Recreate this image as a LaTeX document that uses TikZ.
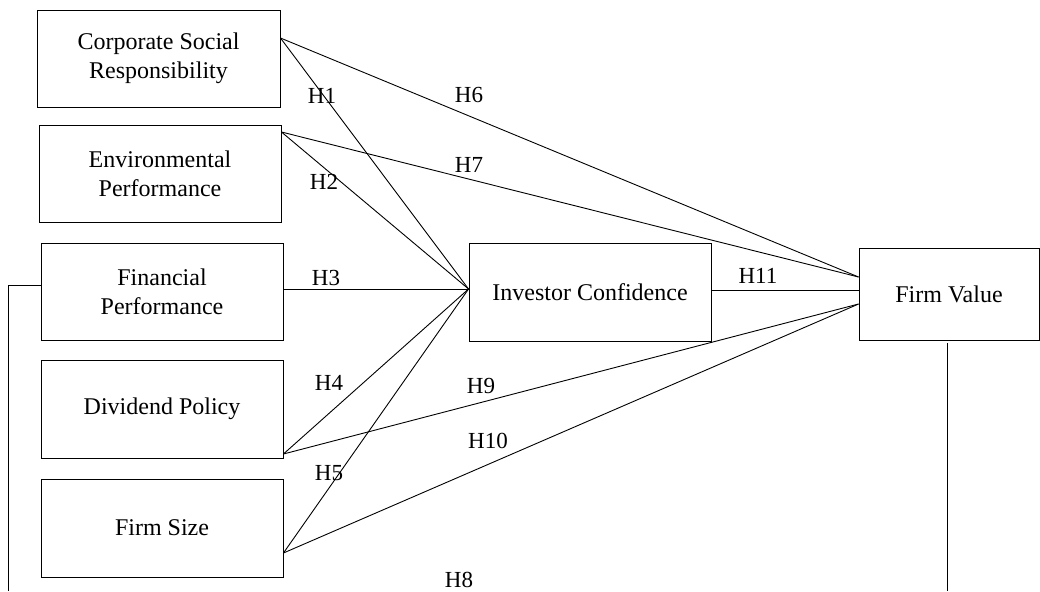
\documentclass[tikz,border=0pt]{standalone}
\usepackage{fontspec}
\setmainfont{Liberation Serif}
\begin{document}
\begin{tikzpicture}[x=1pt,y=-1pt,
  box/.style={draw, line width=0.9pt, inner sep=0pt, align=center, font=\fontsize{24}{29}\selectfont},
  hl/.style={font=\fontsize{23}{27}\selectfont, inner sep=0pt},
  conn/.style={line width=0.9pt}]
\useasboundingbox (0,0) rectangle (1040,591);
\node[box, minimum width=243pt, minimum height=97pt] (csr) at (158.5,58.5) {Corporate Social\\Responsibility};
\node[box, minimum width=242pt, minimum height=97pt] (env) at (160,173.5) {Environmental\\Performance};
\node[box, minimum width=242pt, minimum height=97pt] (fin) at (162,291.5) {Financial\\Performance};
\node[box, minimum width=242pt, minimum height=98pt] (div) at (162,409) {Dividend Policy};
\node[box, minimum width=242pt, minimum height=98pt] (size) at (162,528) {Firm Size};
\node[box, minimum width=242pt, minimum height=98pt] (ic) at (590,292) {Investor Confidence};
\node[box, minimum width=180pt, minimum height=92pt] (fv) at (949,294) {Firm Value};

\coordinate (icin) at ([yshift=3pt]ic.west);
\coordinate (fvtop) at ([yshift=17pt]fv.west);
\coordinate (fvbot) at ([yshift=-10pt]fv.west);
\coordinate (csra) at ([yshift=20.5pt]csr.east);
\coordinate (enva) at ([yshift=41.5pt]env.east);
\coordinate (diva) at ([yshift=-45pt]div.east);
\coordinate (sizea) at ([yshift=-25pt]size.east);

\draw[conn] (csra) -- (icin);
\draw[conn] (csra) -- (fvtop);
\draw[conn] (enva) -- (icin);
\draw[conn] (enva) -- (fvtop);
\draw[conn] ([yshift=2.5pt]fin.east) -- (icin);
\draw[conn] (diva) -- (icin);
\draw[conn] (diva) -- (fvbot);
\draw[conn] (sizea) -- (icin);
\draw[conn] (sizea) -- (fvbot);
\draw[conn] ([yshift=2pt]ic.east) -- ([yshift=4pt]fv.west);

\coordinate (lb) at (8,591);
\coordinate (rbtop) at (947,343);
\coordinate (rb) at (947,591);
\draw[conn] ([yshift=6.5pt]fin.west) -| (lb);
\draw[conn] (rbtop) -- (rb);

\node[hl] (h1) at (322,96) {H1};
\node[hl] (h6) at (469,95) {H6};
\node[hl] (h2) at (324,182) {H2};
\node[hl] (h7) at (469,165) {H7};
\node[hl] (h3) at (326,278) {H3};
\node[hl] (h11) at (758,276) {H11};
\node[hl] (h4) at (329,383) {H4};
\node[hl] (h9) at (481,386) {H9};
\node[hl] (h5) at (329,473) {H5};
\node[hl] (h10) at (488,441) {H10};
\node[hl] (h8) at (459,580) {H8};
\end{tikzpicture}
\end{document}
